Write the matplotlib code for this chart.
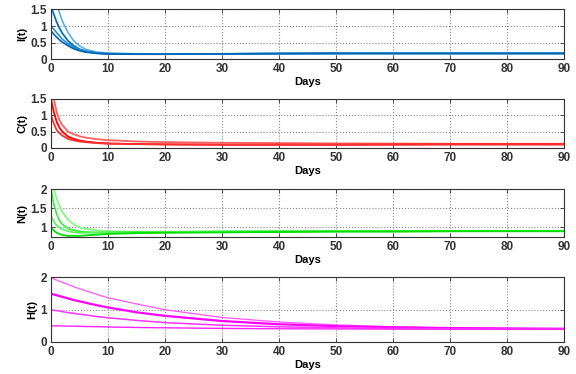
import numpy as np
import matplotlib.pyplot as plt

plt.rcParams['font.family'] = ['Liberation Sans', 'DejaVu Sans']

# time points (days)
days = [0, 0.5, 1, 1.5, 2, 3, 4, 5, 6, 8, 10, 15, 20, 30, 40, 50, 60, 70, 80, 90]

# I(t)
I1 = [2.2, 1.9, 1.62, 1.4, 1.15, 0.8, 0.55, 0.4, 0.3, 0.21, 0.18, 0.16, 0.155, 0.16, 0.165, 0.17, 0.17, 0.17, 0.17, 0.17]
I2 = [1.6, 1.35, 1.12, 0.93, 0.78, 0.55, 0.4, 0.3, 0.24, 0.18, 0.16, 0.15, 0.15, 0.155, 0.165, 0.17, 0.17, 0.17, 0.17, 0.17]
I3 = [1.0, 0.9, 0.8, 0.7, 0.6, 0.46, 0.35, 0.28, 0.23, 0.18, 0.16, 0.15, 0.15, 0.155, 0.165, 0.17, 0.17, 0.17, 0.17, 0.17]
I4 = [0.85, 0.75, 0.66, 0.58, 0.51, 0.4, 0.31, 0.25, 0.21, 0.17, 0.15, 0.145, 0.145, 0.155, 0.165, 0.17, 0.17, 0.17, 0.17, 0.17]

# C(t)
C1 = [2.0, 1.5, 1.1, 0.85, 0.7, 0.5, 0.42, 0.36, 0.32, 0.27, 0.24, 0.2, 0.18, 0.16, 0.15, 0.14, 0.135, 0.13, 0.13, 0.13]
C2 = [1.5, 1.1, 0.8, 0.62, 0.5, 0.35, 0.28, 0.23, 0.2, 0.16, 0.14, 0.12, 0.11, 0.1, 0.1, 0.1, 0.105, 0.11, 0.11, 0.11]
C3 = [1.0, 0.75, 0.55, 0.45, 0.38, 0.28, 0.23, 0.2, 0.18, 0.15, 0.13, 0.12, 0.11, 0.1, 0.1, 0.1, 0.105, 0.11, 0.11, 0.11]

# N(t)
N1 = [2.3, 2.0, 1.75, 1.55, 1.4, 1.2, 1.08, 1.0, 0.96, 0.92, 0.9, 0.89, 0.89, 0.9, 0.9, 0.9, 0.91, 0.91, 0.91, 0.91]
N2 = [2.0, 1.6, 1.35, 1.18, 1.08, 0.97, 0.92, 0.9, 0.88, 0.87, 0.87, 0.88, 0.88, 0.89, 0.9, 0.9, 0.9, 0.9, 0.91, 0.91]
N3 = [1.3, 1.15, 1.05, 0.99, 0.95, 0.9, 0.87, 0.86, 0.86, 0.86, 0.87, 0.87, 0.88, 0.89, 0.89, 0.9, 0.9, 0.9, 0.9, 0.9]
N4 = [1.0, 0.92, 0.86, 0.83, 0.8, 0.78, 0.78, 0.78, 0.79, 0.81, 0.83, 0.85, 0.86, 0.87, 0.88, 0.89, 0.89, 0.9, 0.9, 0.9]

# H(t)
H1 = [2.0, 1.96, 1.92, 1.88, 1.85, 1.78, 1.71, 1.65, 1.59, 1.48, 1.37, 1.18, 1.0, 0.76, 0.62, 0.53, 0.47, 0.44, 0.42, 0.41]
H2 = [1.5, 1.47, 1.45, 1.42, 1.4, 1.35, 1.3, 1.26, 1.22, 1.14, 1.07, 0.92, 0.81, 0.65, 0.55, 0.49, 0.455, 0.43, 0.42, 0.41]
H3 = [1.0, 0.98, 0.97, 0.96, 0.94, 0.91, 0.89, 0.86, 0.84, 0.79, 0.75, 0.67, 0.6, 0.52, 0.47, 0.44, 0.42, 0.41, 0.405, 0.4]
H4 = [0.5, 0.5, 0.5, 0.5, 0.5, 0.49, 0.49, 0.485, 0.48, 0.475, 0.465, 0.45, 0.44, 0.42, 0.41, 0.405, 0.4, 0.4, 0.4, 0.4]

xticks = list(range(0, 100, 10))

panels = [
    ('I(t)', [I1, I2, I3, I4], ['#5aaee8', '#0072BD', '#2a8bd6', '#0066b3'], [1.2, 1.3, 1.2, 1.2],
     (0, 1.5), [0, 0.5, 1, 1.5], ['0', '0.5', '1', '1.5']),
    ('C(t)', [C1, C2, C3], ['#ff6060', '#ff0000', '#ff3030'], [1.3, 1.3, 1.3],
     (0, 1.5), [0, 0.5, 1, 1.5], ['0', '0.5', '1', '1.5']),
    ('N(t)', [N1, N2, N3, N4], ['#77ff77', '#33ee33', '#55f555', '#00dd00'], [1.2, 1.2, 1.2, 1.3],
     (0.75, 2), [1, 1.5, 2], ['1', '1.5', '2']),
    ('H(t)', [H1, H2, H3, H4], ['#ff55ff', '#ff00ff', '#ff33ff', '#ff22ff'], [0.9, 1.6, 1.1, 1.0],
     (0, 2), [0, 1, 2], ['0', '1', '2']),
]

# axes rectangles in figure fractions (left, bottom, width, height)
rects = [
    (0.0885, 0.8422, 0.8906, 0.1324),
    (0.0885, 0.6043, 0.8906, 0.1310),
    (0.0885, 0.3663, 0.8906, 0.1283),
    (0.0885, 0.0856, 0.8906, 0.1725),
]

fig = plt.figure(figsize=(5.76, 3.74), dpi=100)
tcol = '#333333'
for (lab, series, cols, lws, ylim, yt, ytl), r in zip(panels, rects):
    ax = fig.add_axes(r)
    for s, c, w in zip(series, cols, lws):
        ax.plot(days, s, color=c, lw=w)
    ax.set_xlim(0, 90)
    ax.set_ylim(*ylim)
    ax.set_xticks(xticks)
    ax.set_xticklabels([str(t) for t in xticks], fontweight='bold', fontsize=8.5, color=tcol)
    ax.set_yticks(yt)
    ax.set_yticklabels(ytl, fontweight='bold', fontsize=8.5, color=tcol)
    ax.grid(True, linestyle=':', color='#888888', lw=0.8)
    ax.tick_params(direction='in', top=True, right=True, length=3, width=0.6, pad=3, colors=tcol)
    for sp in ax.spines.values():
        sp.set_color('#333333')
        sp.set_linewidth(0.8)
    ax.set_ylabel(lab, fontweight='bold', fontsize=8, labelpad=2)
    ax.set_xlabel('Days', fontweight='bold', fontsize=8, labelpad=1)

fig.savefig('out.png', dpi=100)
